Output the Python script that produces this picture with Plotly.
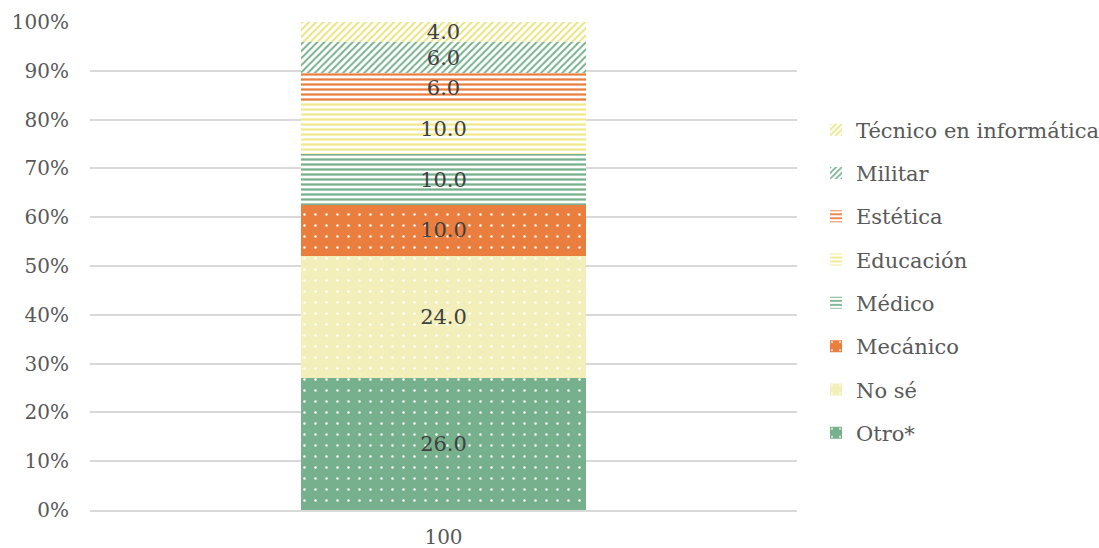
import plotly.graph_objects as go

categories = ["100"]
series_names = ["Otro*", "No sé", "Mecánico", "Médico", "Educación", "Estética", "Militar", "Técnico en informática"]
series_values = [26.0, 24.0, 10.0, 10.0, 10.0, 6.0, 6.0, 4.0]
series_colors = ["#77B08D", "#F2EFBA", "#EA7E3E", "#77B08D", "#F0E98C", "#EA7E3E", "#77B08D", "#EBE37E"]
series_patterns = [".", ".", ".", "-", "-", "-", "/", "/"]
y_ticks = list(range(0, 101, 10))
y_ticktext = [f"{v}%" for v in y_ticks]

FONT = "Georgia, 'DejaVu Serif', serif"

fig = go.Figure()
n = len(series_names)
for i, (name, val, col, pat) in enumerate(zip(series_names, series_values, series_colors, series_patterns)):
    if pat == ".":
        pattern = dict(shape=".", fgcolor="white", bgcolor=col, size=11, solidity=0.04, fillmode="replace")
    elif pat == "-":
        pattern = dict(shape="-", fgcolor=col, bgcolor="white", size=5, solidity=0.45, fillmode="replace")
    else:
        pattern = dict(shape="/", fgcolor=col, bgcolor="white", size=5, solidity=0.4, fillmode="replace")
    fig.add_trace(go.Bar(
        x=categories, y=[val], name=name,
        marker=dict(color=col, line=dict(width=0), pattern=pattern),
        text=[f"{val:.1f}"], texttemplate="%{text}",
        textposition="inside", insidetextanchor="middle", constraintext="none",
        textfont=dict(family=FONT, size=21, color="#404040"),
        legendgroup=f"g{i}", legendrank=100 + (n - i), width=0.402,
    ))

fig.update_layout(
    barmode="stack", barnorm="percent",
    width=1099, height=548,
    margin=dict(l=90, r=302, t=22, b=38),
    paper_bgcolor="white", plot_bgcolor="white",
    font=dict(family=FONT, color="#595959", size=20),
    legend=dict(traceorder="grouped", xref="container", yref="container",
                x=0.7425, xanchor="left", y=0.4863, yanchor="middle",
                tracegroupgap=13, font=dict(family=FONT, size=21, color="#595959"),
                itemwidth=30, maxheight=540),
    showlegend=True,
)
fig.update_yaxes(range=[0, 100], tickvals=y_ticks, ticktext=y_ticktext, showgrid=True,
                 gridcolor="#D9D9D9", gridwidth=1.5, zeroline=False, showline=False,
                 ticks="", tickfont=dict(family=FONT, size=20, color="#595959"),
                 ticklabelstandoff=20, automargin=False)
fig.update_xaxes(type="category", showline=True, linecolor="#D9D9D9", linewidth=1.5,
                 ticks="", tickfont=dict(family=FONT, size=20, color="#595959"),
                 ticklabelstandoff=8, automargin=False)

fig.write_html("out.html", config={"displayModeBar": False},
               post_script="document.body.style.margin='0px';")
